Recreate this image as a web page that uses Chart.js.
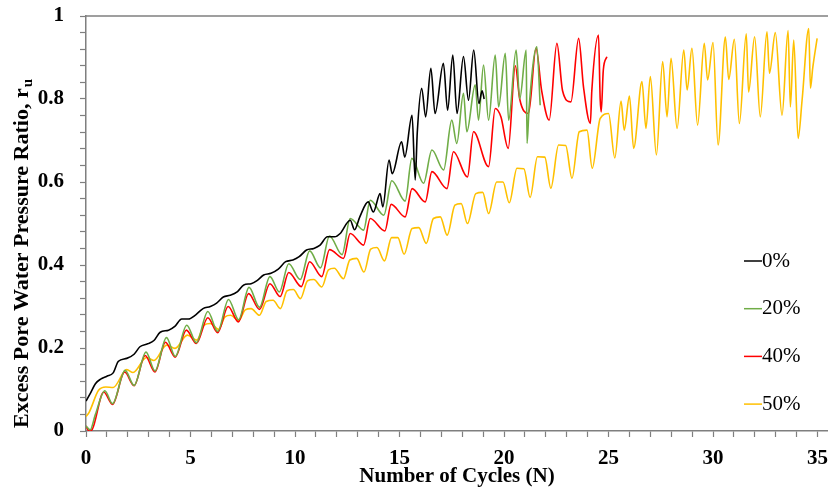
<!DOCTYPE html>
<html>
<head>
<meta charset="utf-8">
<script src="https://cdn.jsdelivr.net/npm/chart.js@4.4.1/dist/chart.umd.min.js"></script>
<style>
  html, body { margin: 0; padding: 0; background: #fff; }
  #wrap { width: 828px; height: 489px; }
</style>
</head>
<body>
<div id="wrap"><canvas id="ruChart" width="828" height="489"></canvas></div>
<script>
// ---- data: [cycle N, r_u] ----
const seriesNames = ['0%', '20%', '40%', '50%'];
const seriesColors = ['#000000', '#70AD47', '#FF0000', '#FFC000'];

const ru0 = [
  [0, 0.072], [0.2, 0.09], [0.45, 0.114], [0.7, 0.125], [1.0, 0.132], [1.3, 0.14], [1.55, 0.168],
  [1.95, 0.175], [2.3, 0.185], [2.58, 0.203], [2.95, 0.21], [3.25, 0.218], [3.55, 0.238], [3.95, 0.243],
  [4.25, 0.252], [4.58, 0.27], [4.9, 0.27], [5.25, 0.28], [5.6, 0.295], [5.95, 0.3], [6.25, 0.308],
  [6.57, 0.323], [6.9, 0.327], [7.25, 0.336], [7.55, 0.352], [7.9, 0.355], [8.2, 0.363], [8.5, 0.376],
  [8.85, 0.38], [9.2, 0.39], [9.55, 0.408], [9.9, 0.412], [10.2, 0.42], [10.55, 0.436], [10.9, 0.44],
  [11.2, 0.448], [11.55, 0.468], [11.9, 0.468], [12.16, 0.476], [12.64, 0.508], [12.85, 0.485],
  [13.1, 0.516], [13.5, 0.552], [13.75, 0.528], [14.07, 0.572], [14.2, 0.54], [14.5, 0.653],
  [14.65, 0.62], [15.1, 0.697], [15.25, 0.66], [15.6, 0.761], [15.75, 0.605], [15.85, 0.72],
  [16.06, 0.826], [16.25, 0.757], [16.5, 0.874], [16.7, 0.765], [17.1, 0.886], [17.3, 0.773],
  [17.55, 0.906], [17.75, 0.765], [18.06, 0.902], [18.3, 0.797], [18.55, 0.918], [18.8, 0.789],
  [18.95, 0.82], [19.05, 0.80]
];

const ru20 = [
  [0, 0.012], [0.2, 0.003], [0.45, 0.04], [0.9, 0.097], [1.27, 0.066], [1.87, 0.146], [2.3, 0.11],
  [2.87, 0.19], [3.3, 0.145], [3.85, 0.225], [4.27, 0.18], [4.82, 0.255], [5.28, 0.213], [5.83, 0.288],
  [6.3, 0.24], [6.82, 0.317], [7.3, 0.268], [7.8, 0.346], [8.3, 0.298], [8.8, 0.372], [9.25, 0.335],
  [9.7, 0.403], [10.25, 0.365], [10.7, 0.434], [11.22, 0.393], [11.65, 0.47], [12.25, 0.425],
  [12.64, 0.512], [13.28, 0.484], [13.6, 0.556], [14.25, 0.52], [14.63, 0.603], [15.27, 0.554],
  [15.59, 0.657], [16.15, 0.597], [16.55, 0.677], [17.11, 0.629], [17.5, 0.749], [17.74, 0.693],
  [18.06, 0.814], [18.22, 0.721], [18.62, 0.834], [18.78, 0.749], [19.02, 0.882], [19.26, 0.749],
  [19.58, 0.906], [19.74, 0.781], [20.06, 0.91], [20.22, 0.749], [20.58, 0.918], [20.75, 0.8],
  [21.06, 0.918], [21.1, 0.693], [21.2, 0.78], [21.57, 0.926], [21.73, 0.785]
];

const ru40 = [
  [0, 0.012], [0.15, 0.0], [0.3, 0.004], [0.85, 0.094], [1.27, 0.064], [1.85, 0.142], [2.3, 0.109],
  [2.83, 0.182], [3.3, 0.142], [3.8, 0.214], [4.27, 0.178], [4.8, 0.243], [5.28, 0.211], [5.83, 0.273],
  [6.3, 0.237], [6.8, 0.30], [7.29, 0.263], [7.78, 0.331], [8.3, 0.293], [8.8, 0.355], [9.29, 0.324],
  [9.7, 0.382], [10.3, 0.348], [10.7, 0.408], [11.28, 0.372], [11.65, 0.437], [12.32, 0.416],
  [12.64, 0.476], [13.28, 0.448], [13.6, 0.512], [14.3, 0.482], [14.6, 0.546], [15.27, 0.516],
  [15.6, 0.584], [16.23, 0.552], [16.55, 0.625], [17.27, 0.584], [17.58, 0.673], [18.25, 0.612],
  [18.54, 0.721], [19.26, 0.637], [19.58, 0.777], [19.85, 0.757], [20.2, 0.681], [20.54, 0.88],
  [20.75, 0.80], [21.17, 0.765], [21.53, 0.922], [21.8, 0.82], [22.16, 0.749], [22.53, 0.934],
  [22.8, 0.82], [23.2, 0.793], [23.57, 0.946], [23.8, 0.83], [24.13, 0.741], [24.2, 0.82],
  [24.52, 0.954], [24.6, 0.80], [24.65, 0.769], [24.75, 0.87], [24.92, 0.902]
];

const ru50 = [
  [0, 0.035], [0.15, 0.045], [0.6, 0.098], [0.95, 0.106], [1.3, 0.105], [1.95, 0.148], [2.25, 0.141],
  [2.9, 0.177], [3.25, 0.17], [3.86, 0.207], [4.26, 0.199], [4.85, 0.231], [5.3, 0.219], [5.65, 0.255],
  [5.95, 0.259], [6.34, 0.245], [6.65, 0.275], [6.92, 0.279], [7.3, 0.266], [7.62, 0.292], [7.9, 0.295],
  [8.3, 0.279], [8.62, 0.312], [8.95, 0.315], [9.3, 0.295], [9.62, 0.338], [9.92, 0.341], [10.26, 0.319],
  [10.6, 0.362], [10.9, 0.365], [11.28, 0.347], [11.6, 0.388], [11.88, 0.392], [12.32, 0.367],
  [12.62, 0.412], [12.95, 0.416], [13.3, 0.383], [13.62, 0.438], [13.92, 0.442], [14.28, 0.41],
  [14.62, 0.466], [14.92, 0.466], [15.22, 0.426], [15.6, 0.488], [15.92, 0.49], [16.28, 0.452],
  [16.62, 0.512], [16.95, 0.516], [17.28, 0.472], [17.65, 0.544], [17.95, 0.548], [18.25, 0.50],
  [18.65, 0.572], [18.98, 0.575], [19.26, 0.524], [19.65, 0.60], [19.95, 0.60], [20.25, 0.55],
  [20.62, 0.633], [20.95, 0.632], [21.25, 0.563], [21.6, 0.661], [21.95, 0.66], [22.24, 0.585],
  [22.61, 0.689], [22.95, 0.688], [23.25, 0.609], [23.6, 0.721], [23.97, 0.725], [24.22, 0.633],
  [24.6, 0.753], [25.0, 0.765], [25.3, 0.658], [25.6, 0.795], [25.75, 0.725], [26.0, 0.807],
  [26.2, 0.681], [26.6, 0.842], [26.79, 0.729], [27.0, 0.854], [27.29, 0.665], [27.59, 0.89],
  [27.8, 0.757], [27.99, 0.898], [28.28, 0.729], [28.6, 0.918], [28.76, 0.822], [28.99, 0.922],
  [29.26, 0.737], [29.58, 0.934], [29.74, 0.846], [30.0, 0.936], [30.24, 0.689], [30.59, 0.949],
  [30.75, 0.847], [31.02, 0.944], [31.26, 0.741], [31.59, 0.957], [31.7, 0.817], [31.99, 0.95],
  [32.26, 0.757], [32.58, 0.962], [32.7, 0.862], [32.98, 0.96], [33.3, 0.761], [33.59, 0.965],
  [33.7, 0.781], [33.86, 0.942], [34.07, 0.705], [34.26, 0.797], [34.58, 0.97], [34.66, 0.826],
  [34.77, 0.875], [34.98, 0.946]
];

const seriesData = [ru0, ru20, ru40, ru50];

// axis stuff
const xTitle = 'Number of Cycles (N)';
const yTitle = 'Excess Pore Water Pressure Ratio, r';
const yTitleSub = 'u';

const serif = '"Liberation Serif", "Times New Roman", serif';
const axisGray = '#7f7f7f';

// frame line on top + y title with subscript + legend at right
const extrasPlugin = {
  id: 'extras',
  afterDraw(chart) {
    const ctx = chart.ctx;
    const area = chart.chartArea;
    ctx.save();

    // top border
    ctx.strokeStyle = axisGray;
    ctx.lineWidth = 1.5;
    ctx.beginPath();
    ctx.moveTo(area.left, area.top);
    ctx.lineTo(area.right, area.top);
    ctx.stroke();

    // y title, rotated, with subscript u
    ctx.save();
    ctx.translate(28, 428);
    ctx.rotate(-Math.PI / 2);
    ctx.fillStyle = '#000';
    ctx.textBaseline = 'alphabetic';
    ctx.font = 'bold 22px ' + serif;
    ctx.fillText(yTitle, 0, 0);
    let w = ctx.measureText(yTitle).width;
    ctx.font = 'bold 15px ' + serif;
    ctx.fillText(yTitleSub, w + 1, 4);
    ctx.restore();

    // legend
    ctx.font = '21px ' + serif;
    ctx.textBaseline = 'middle';
    seriesNames.forEach(function(name, i) {
      let y = 261 + i * 47.7;
      ctx.strokeStyle = seriesColors[i];
      ctx.lineWidth = 1.5;
      ctx.beginPath();
      ctx.moveTo(744, y);
      ctx.lineTo(762, y);
      ctx.stroke();
      ctx.fillStyle = '#000';
      ctx.fillText(name, 762, y);
    });

    ctx.restore();
  }
};

let datasets = [];
for (let i = 0; i < seriesData.length; i++) {
  datasets.push({
    label: seriesNames[i],
    data: seriesData[i],
    borderColor: seriesColors[i],
    backgroundColor: seriesColors[i],
    borderWidth: 1.6,
    pointRadius: 0,
    fill: false,
    cubicInterpolationMode: 'monotone'
  });
}

let ctx = document.getElementById('ruChart').getContext('2d');
let ruChart = new Chart(ctx, {
  type: 'line',
  data: { datasets: datasets },
  options: {
    responsive: false,
    animation: false,
    devicePixelRatio: 1,
    layout: { padding: { top: 16, right: 0, left: 0, bottom: 0 } },
    plugins: {
      legend: { display: false },
      tooltip: { enabled: false }
    },
    scales: {
      x: {
        type: 'linear',
        min: 0,
        max: 35.5,
        afterBuildTicks: function(scale) {
          scale.ticks = scale.ticks.filter(t => Math.abs(t.value - Math.round(t.value)) < 1e-6);
        },
        afterFit: function(scale) {
          scale.height = 58;
          scale.paddingLeft = 0;
          scale.paddingRight = 0;
        },
        ticks: {
          stepSize: 1,
          includeBounds: false,
          autoSkip: false,
          maxRotation: 0,
          padding: 9,
          color: '#000',
          font: { family: serif, size: 21, weight: 'bold' },
          callback: function(v) { return (Math.round(v) % 5 === 0) ? String(Math.round(v)) : ''; }
        },
        grid: {
          display: true,
          drawOnChartArea: false,
          drawTicks: true,
          tickLength: 6,
          tickColor: axisGray,
          tickWidth: 1.2
        },
        border: { display: true, color: axisGray, width: 1.5 },
        title: {
          display: true,
          text: xTitle,
          color: '#000',
          font: { family: serif, size: 21, weight: 'bold' },
          padding: { top: 0, bottom: 0 }
        }
      },
      y: {
        type: 'linear',
        min: 0,
        max: 1,
        afterFit: function(scale) {
          scale.width = 86;
          scale.paddingTop = 0;
          scale.paddingBottom = 0;
        },
        ticks: {
          stepSize: 0.04,
          autoSkip: false,
          padding: 16,
          color: '#000',
          font: { family: serif, size: 21, weight: 'bold' },
          callback: function(v) {
            let k = v * 5;
            if (Math.abs(k - Math.round(k)) > 1e-6) return '';
            return String(Math.round(k) / 5);
          }
        },
        grid: {
          display: true,
          drawOnChartArea: false,
          drawTicks: true,
          tickLength: 6,
          tickColor: axisGray,
          tickWidth: 1.2
        },
        border: { display: true, color: axisGray, width: 1.5 }
      }
    }
  },
  plugins: [extrasPlugin]
});
</script>
</body>
</html>
